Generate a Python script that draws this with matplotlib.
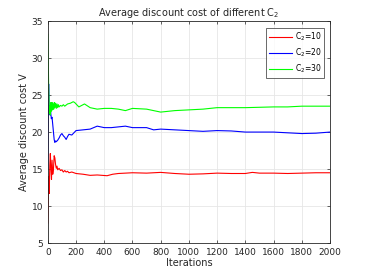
import matplotlib
matplotlib.use("Agg")
import matplotlib.pyplot as plt

# Data
x_red = [0, 3, 6, 10, 14, 18, 22, 26, 30, 35, 40, 45, 50, 55, 60, 65, 70, 80, 90, 100, 110, 120, 130, 140, 150, 170, 200, 250, 300, 350, 420, 460, 500, 600, 700, 800, 900, 1000, 1100, 1200, 1300, 1400, 1450, 1500, 1600, 1700, 1800, 1900, 2000]
y_red = [7.7, 10.5, 14.0, 11.7, 15.5, 17.1, 15.0, 13.6, 16.2, 14.3, 15.0, 16.8, 16.5, 15.6, 15.1, 15.4, 14.9, 15.1, 14.8, 14.9, 14.6, 14.8, 14.6, 14.7, 14.5, 14.6, 14.4, 14.3, 14.15, 14.2, 14.1, 14.3, 14.4, 14.5, 14.45, 14.55, 14.4, 14.3, 14.35, 14.45, 14.4, 14.4, 14.55, 14.45, 14.45, 14.4, 14.45, 14.5, 14.5]

x_blue = [0, 3, 6, 9, 12, 16, 20, 25, 30, 35, 40, 45, 50, 55, 60, 70, 80, 90, 100, 110, 120, 130, 140, 150, 170, 190, 200, 250, 300, 350, 400, 450, 500, 550, 600, 700, 750, 800, 900, 1000, 1100, 1200, 1300, 1400, 1500, 1600, 1700, 1800, 1900, 2000]
y_blue = [15.0, 21.0, 26.5, 23.0, 23.5, 22.3, 22.7, 21.8, 22.0, 21.0, 20.0, 19.0, 18.6, 18.8, 18.7, 18.9, 19.2, 19.6, 19.8, 19.5, 19.3, 19.0, 19.4, 19.7, 19.6, 20.0, 20.2, 20.3, 20.4, 20.8, 20.6, 20.6, 20.7, 20.8, 20.6, 20.6, 20.3, 20.4, 20.3, 20.2, 20.1, 20.2, 20.15, 20.0, 20.0, 20.0, 19.9, 19.8, 19.85, 20.0]

x_green = [0, 3, 6, 9, 12, 15, 18, 22, 26, 30, 34, 38, 42, 46, 50, 55, 60, 65, 70, 75, 80, 90, 100, 110, 120, 140, 160, 180, 190, 200, 220, 240, 260, 300, 350, 400, 450, 500, 550, 600, 700, 800, 900, 1000, 1100, 1200, 1300, 1400, 1500, 1600, 1700, 1800, 1900, 2000]
y_green = [33.2, 30.0, 26.0, 24.0, 22.5, 23.5, 22.3, 24.0, 22.8, 24.0, 23.0, 23.8, 23.1, 24.0, 23.3, 23.9, 23.2, 23.8, 23.3, 23.7, 23.4, 23.6, 23.5, 23.7, 23.5, 23.8, 23.9, 24.1, 24.0, 23.8, 23.4, 23.6, 23.8, 23.3, 23.1, 23.2, 23.2, 23.1, 22.9, 23.2, 23.1, 22.7, 22.9, 23.0, 23.1, 23.3, 23.3, 23.3, 23.35, 23.4, 23.4, 23.5, 23.5, 23.5]

labels = ["C$_2$=10", "C$_2$=20", "C$_2$=30"]
xticks = [0, 200, 400, 600, 800, 1000, 1200, 1400, 1600, 1800, 2000]
yticks = [5, 10, 15, 20, 25, 30, 35]

fig = plt.figure(figsize=(3.65, 2.74), dpi=100)
ax = fig.add_axes([0.131, 0.113, 0.773, 0.81])

ax.plot(x_red, y_red, color="#ff0000", lw=0.8, label=labels[0])
ax.plot(x_blue, y_blue, color="#0000ff", lw=0.8, label=labels[1])
ax.plot(x_green, y_green, color="#00ff00", lw=0.8, label=labels[2])

ax.set_xlim(0, 2000)
ax.set_ylim(5, 35)
ax.set_xticks(xticks)
ax.set_yticks(yticks)
ax.grid(True, color="#e6e6e6", lw=0.6)
ax.set_axisbelow(True)
for s in ax.spines.values():
    s.set_color("#262626")
    s.set_linewidth(0.6)
ax.tick_params(labelsize=6.5, colors="#262626", length=2, width=0.5, direction="in", top=True, right=True, labeltop=False, labelright=False)

ax.set_title("Average discount cost of different C$_2$", fontsize=7, color="#262626", pad=4)
ax.set_xlabel("Iterations", fontsize=7, color="#262626", labelpad=1)
ax.set_ylabel("Average discount cost V", fontsize=7, color="#262626", labelpad=2)

leg = ax.legend(loc="upper right", fontsize=5.5, frameon=True, fancybox=False, edgecolor="#262626",
                handlelength=3.0, handletextpad=0.4, borderpad=0.35, labelspacing=0.45, borderaxespad=0,
                bbox_to_anchor=(0.979, 0.968))
leg.get_frame().set_linewidth(0.6)

fig.savefig("out.png", dpi=100)
